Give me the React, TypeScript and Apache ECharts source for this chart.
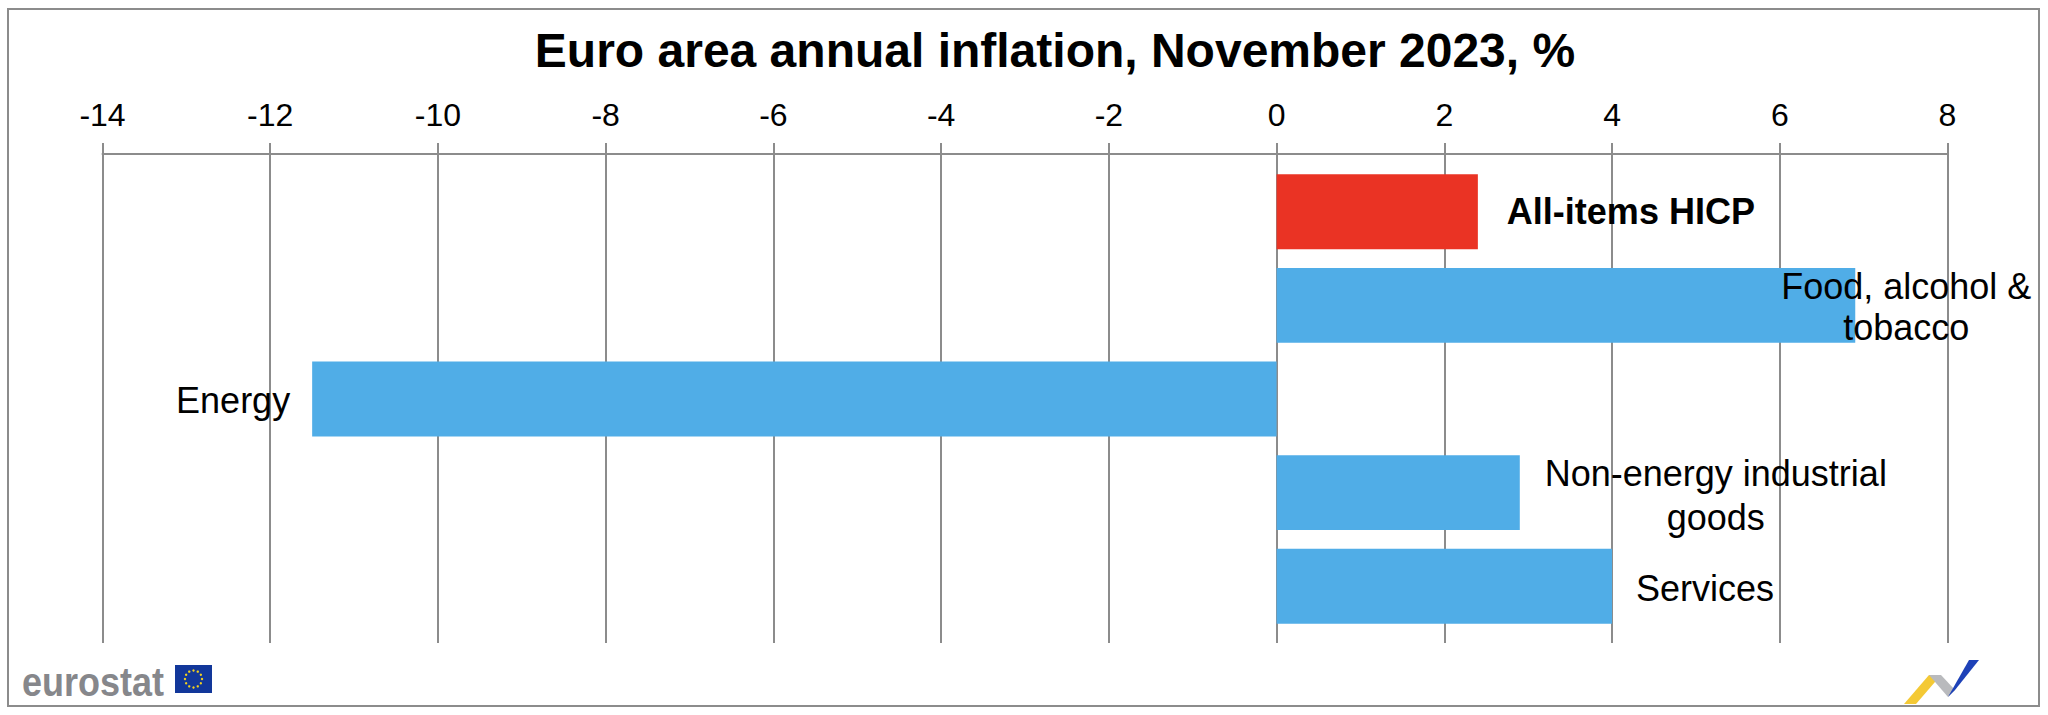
import React, { useEffect, useRef } from "react";
import * as echarts from "echarts";

const titleText = "Euro area annual inflation, November 2023, %";
const categories = [
  "All-items HICP",
  "Food, alcohol &\ntobacco",
  "Energy",
  "Non-energy industrial\ngoods",
  "Services",
];
const values = [2.4, 6.9, -11.5, 2.9, 4.0];
const axisMin = -14;
const axisMax = 8;
const axisStep = 2;

const RED = "#EA3324";
const BLUE = "#50ADE7";
const GRID = "#8c8c8c";
const FONT = "'Liberation Sans', Arial, sans-serif";

// label layout per category (styling, not data)
const labelLayouts: any[] = [
  { position: "right", distance: 29, align: "left", fontWeight: "bold", offset: [0, 0], lineHeight: 41 },
  { position: "right", distance: 51, align: "center", offset: [0, 2], lineHeight: 41 },
  { position: "left", distance: 22, align: "right", offset: [0, 1], lineHeight: 41 },
  { position: "right", distance: 196, align: "center", offset: [0, 3], lineHeight: 44 },
  { position: "right", distance: 93, align: "center", offset: [0, 2], lineHeight: 41 },
];

export default function App() {
  const ref = useRef<HTMLDivElement>(null);
  useEffect(() => {
    document.body.style.margin = "0";
    const chart = echarts.init(ref.current!, null, { renderer: "svg" });
    const stars: any[] = [];
    for (let i = 0; i < 12; i++) {
      const a = (i / 12) * Math.PI * 2;
      stars.push({
        type: "circle",
        shape: { cx: 193.5 + Math.cos(a) * 8.5, cy: 679 + Math.sin(a) * 8.5, r: 1.2 },
        style: { fill: "#f5d31c" },
      });
    }
    chart.setOption({
      animation: false,
      backgroundColor: "#ffffff",
      grid: [
        { left: 102.5, right: 100.5, top: 165, height: 468, containLabel: false },
        { left: 102.5, right: 100.5, top: 143, height: 500, containLabel: false },
      ],
      xAxis: [
        {
          gridIndex: 0,
          type: "value",
          position: "top",
          offset: 11,
          min: axisMin,
          max: axisMax,
          interval: axisStep,
          axisLine: { show: true, lineStyle: { color: GRID, width: 2 } },
          axisTick: { show: false },
          splitLine: { show: false },
          axisLabel: { fontFamily: FONT, fontSize: 32, color: "#000", margin: 23 },
        },
        {
          gridIndex: 1,
          type: "value",
          min: axisMin,
          max: axisMax,
          interval: axisStep,
          axisLine: { show: false },
          axisTick: { show: false },
          axisLabel: { show: false },
          splitLine: { show: true, lineStyle: { color: GRID, width: 2 } },
        },
      ],
      yAxis: [
        {
          gridIndex: 0,
          type: "category",
          data: categories,
          inverse: true,
          axisLine: { show: false },
          axisTick: { show: false },
          axisLabel: { show: false },
          splitLine: { show: false },
        },
        { gridIndex: 1, type: "value", min: 0, max: 1, show: false },
      ],
      series: [
        {
          type: "bar",
          xAxisIndex: 0,
          yAxisIndex: 0,
          barCategoryGap: "20%",
          data: values.map((v, i) => ({
            value: v,
            itemStyle: { color: i === 0 ? RED : BLUE },
            label: {
              show: true,
              formatter: () => categories[i],
              fontFamily: FONT,
              fontSize: 36,
              color: "#000",
              ...labelLayouts[i],
            },
          })),
        },
      ],
      graphic: [
        {
          type: "rect",
          shape: { x: 8, y: 9, width: 2031, height: 697 },
          style: { fill: "none", stroke: GRID, lineWidth: 2 },
          z: -1,
        },
        {
          type: "text",
          x: 1055,
          y: 50,
          style: {
            text: titleText,
            fontFamily: FONT,
            fontWeight: "bold",
            fontSize: 48,
            fill: "#000",
            textAlign: "center",
            textVerticalAlign: "middle",
          },
        },
        {
          type: "text",
          x: 22,
          y: 682,
          style: {
            text: "eurostat",
            fontFamily: FONT,
            fontWeight: "bold",
            fontSize: 40,
            fill: "#86878b",
            textAlign: "left",
            textVerticalAlign: "middle",
          },
          scaleX: 0.9,
        },
        {
          type: "rect",
          shape: { x: 175, y: 665, width: 37, height: 28 },
          style: { fill: "#12379a" },
        },
        ...stars,
        {
          type: "polygon",
          shape: { points: [[1904, 704], [1916, 704], [1941, 675], [1929, 675]] },
          style: { fill: "#f4c935" },
        },
        {
          type: "polygon",
          shape: { points: [[1929, 675], [1941, 675], [1955, 690], [1948, 697]] },
          style: { fill: "#b9babd" },
        },
        {
          type: "polygon",
          shape: { points: [[1948, 697], [1955, 690], [1979, 660], [1969, 660]] },
          style: { fill: "#1e42b8" },
        },
      ],
    });
    return () => chart.dispose();
  }, []);
  return (
    <div
      ref={ref}
      style={{ position: "absolute", left: 0, top: 0, width: 2048, height: 715 }}
    />
  );
}
